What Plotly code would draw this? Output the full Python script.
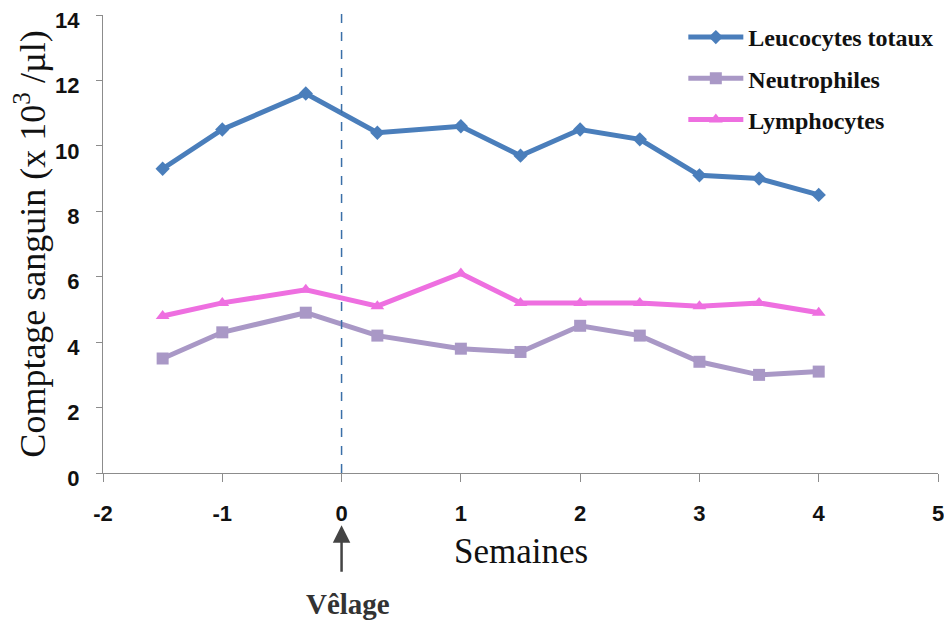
import plotly.graph_objects as go

semaines = [-1.5, -1, -0.3, 0.3, 1, 1.5, 2, 2.5, 3, 3.5, 4]
leucocytes = [9.3, 10.5, 11.6, 10.4, 10.6, 9.7, 10.5, 10.2, 9.1, 9.0, 8.5]
neutrophiles = [3.5, 4.3, 4.9, 4.2, 3.8, 3.7, 4.5, 4.2, 3.4, 3.0, 3.1]
lymphocytes = [4.8, 5.2, 5.6, 5.1, 6.1, 5.2, 5.2, 5.2, 5.1, 5.2, 4.9]

x_ticks = [-2, -1, 0, 1, 2, 3, 4, 5]
x_ticktext = ["-2", "-1", "0", "1", "2", "3", "4", "5"]
y_ticks = [0, 2, 4, 6, 8, 10, 12, 14]

serif = "Liberation Serif, Times New Roman, serif"
sans = "Liberation Sans, Arial, sans-serif"

fig = go.Figure()
series = [
    ("Leucocytes totaux", leucocytes, "#4A7EBB", "diamond", 11),
    ("Neutrophiles", neutrophiles, "#A998C6", "square", 12),
    ("Lymphocytes", lymphocytes, "#EE6FE0", "triangle-up", 12),
]
for name, vals, color, symbol, size in series:
    fig.add_trace(go.Scatter(
        x=semaines, y=vals, name=name, legendgroup=name, mode="lines+markers",
        line=dict(color=color, width=5),
        marker=dict(symbol=symbol, size=size, color=color),
    ))

# calving line
fig.add_shape(type="line", x0=0, x1=0, y0=0, y1=1.01, xref="x", yref="paper",
              line=dict(color="#3A6FA8", width=1.5, dash="dash"))

fig.add_annotation(x=0, y=-0.114, xref="x", yref="paper", text="", showarrow=True,
                   ax=0, ay=48, arrowhead=2, arrowsize=1.4, arrowwidth=2.5,
                   arrowcolor="#444444", standoff=0)
fig.add_annotation(x=0.05, y=-0.285, xref="x", yref="paper", yanchor="middle",
                   text="<b>Vêlage</b>", showarrow=False,
                   font=dict(family=serif, size=29, color="#333333"))
fig.add_annotation(x=0.5, y=-0.172, xref="paper", yanchor="middle", yref="paper",
                   text="Semaines", showarrow=False,
                   font=dict(family=serif, size=35, color="#111111"))

# page body adds ~8px offset, so the figure is sized to fit the window
fig.update_layout(
    width=944, height=614,
    margin=dict(l=95, r=14, t=7, b=149, autoexpand=False),
    paper_bgcolor="white", plot_bgcolor="white",
    showlegend=True,
    legend=dict(x=0.695, y=1.0, xanchor="left", yanchor="top",
                font=dict(family=serif, size=24, color="#111111", weight="bold"),
                tracegroupgap=7, itemwidth=55, bgcolor="rgba(0,0,0,0)"),
)
fig.update_xaxes(
    range=[-2, 5], tickvals=x_ticks, ticktext=x_ticktext, showgrid=False, zeroline=False,
    showline=True, linecolor="#8C8C8C", linewidth=1.2, automargin=False,
    ticks="outside", ticklen=8, tickcolor="#8C8C8C", ticklabelstandoff=12,
    ticklabeloverflow="allow",
    tickfont=dict(family=sans, size=22, color="#111111", weight="bold"),
)
fig.update_yaxes(
    range=[0, 14], tickvals=y_ticks, showgrid=False, zeroline=False,
    showline=True, linecolor="#8C8C8C", linewidth=1.2, automargin=False,
    ticks="outside", ticklen=6, tickcolor="#8C8C8C", ticklabelstandoff=12,
    ticklabeloverflow="allow", ticklabelshift=5,
    tickfont=dict(family=sans, size=22, color="#111111", weight="bold"),
    title=dict(text="Comptage sanguin (x 10<sup>3</sup> /µl)", standoff=10,
               font=dict(family=serif, size=36, color="#111111")),
)

fig.write_html("out.html")
